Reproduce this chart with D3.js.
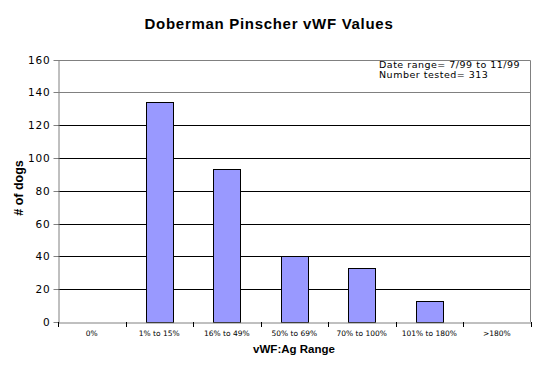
<!DOCTYPE html>
<html><head><meta charset="utf-8">
<script src="https://cdn.jsdelivr.net/npm/d3@7"></script>
<style>body{margin:0;background:#fff}svg{display:block}</style>
</head><body>
<svg id="c" width="540" height="369"></svg>
<script>
const categories = ["0%","1% to 15%","16% to 49%","50% to 69%","70% to 100%","101% to 180%",">180%"];
const values = [0,134,93,40,33,13,0];
const yTicks = [0,20,40,60,80,100,120,140,160];
const title = "Doberman Pinscher vWF Values";
const xTitle = "vWF:Ag Range";
const yTitle = "# of dogs";
const notes = ["Date range= 7/99 to 11/99","Number tested= 313"];

const svg = d3.select("#c");
const L=58, R=530.5, T=59.5, B=322;
const x = d3.scaleBand().domain(categories).range([L,R]).paddingInner(0.6).paddingOuter(0.3);
const xc = d3.scaleBand().domain(categories).range([L,R]);
const y = d3.scaleLinear().domain([0,160]).range([B,T]);

// gridlines
svg.append("g").selectAll("line").data(yTicks.filter(d=>d>0)).join("line")
  .attr("x1",L).attr("x2",R).attr("y1",d=>Math.round(y(d))+0.5).attr("y2",d=>Math.round(y(d))+0.5)
  .attr("stroke",d=>d>=140?"#808080":"#000").attr("stroke-width",1);
// right border
svg.append("line").attr("x1",R).attr("x2",R).attr("y1",Math.round(y(160))+0.5).attr("y2",B).attr("stroke","#808080");

// bars
svg.append("g").selectAll("rect").data(values.map((v,i)=>({c:categories[i],v}))).join("rect")
  .filter(d=>d.v>0)
  .attr("x",d=>Math.round(x(d.c))+0.5).attr("width",Math.round(x.bandwidth()))
  .attr("y",d=>Math.round(y(d.v))+0.5).attr("height",d=>Math.round(B-y(d.v)))
  .attr("fill","#9999ff").attr("stroke","#000").attr("stroke-width",1);

// y axis
const ya = svg.append("g").attr("transform",`translate(${L+0.5},0)`)
  .call(d3.axisLeft(y).tickValues(yTicks).tickSize(5).tickPadding(3).tickSizeOuter(0));
ya.select(".domain").attr("stroke","#808080");
ya.selectAll(".tick line").attr("stroke","#808080");
ya.selectAll(".tick text").attr("font-family","DejaVu Sans").attr("font-size","10.5px").attr("letter-spacing","0.8px").attr("fill","#000");
ya.selectAll(".tick").attr("transform",d=>`translate(0,${Math.round(y(d))+0.5})`);

// x axis
const xa = svg.append("g").attr("transform",`translate(0,${B+0.5})`)
  .call(d3.axisBottom(xc).tickSize(0).tickSizeOuter(0).tickPadding(8));
xa.select(".domain").attr("stroke","#808080");
xa.selectAll(".tick text").attr("font-family","DejaVu Sans").attr("font-size","7.5px").attr("fill","#000");
// category boundary ticks
svg.append("g").selectAll("line").data(categories.concat(["end"])).join("line")
  .attr("x1",(d,i)=>Math.round(L+i*xc.step())+0.5).attr("x2",(d,i)=>Math.round(L+i*xc.step())+0.5)
  .attr("y1",B).attr("y2",B+5).attr("stroke","#000");

// titles
svg.append("text").attr("x",269).attr("y",29).attr("text-anchor","middle")
  .attr("font-family","Liberation Sans").attr("font-weight","bold").attr("font-size","15px").attr("letter-spacing","0.7px").text(title);
svg.append("text").attr("x",294).attr("y",353).attr("text-anchor","middle")
  .attr("font-family","Liberation Sans").attr("font-weight","bold").attr("font-size","11.5px").text(xTitle);
svg.append("text").attr("transform","translate(23,188) rotate(-90)").attr("text-anchor","middle")
  .attr("font-family","Liberation Sans").attr("font-weight","bold").attr("font-size","12.5px").text(yTitle);
svg.append("g").selectAll("text").data(notes).join("text")
  .attr("x",379).attr("y",(d,i)=>68+i*10).attr("font-family","DejaVu Sans").attr("font-size","9.5px").attr("letter-spacing","0.5px").text(d=>d);
</script>
</body></html>
